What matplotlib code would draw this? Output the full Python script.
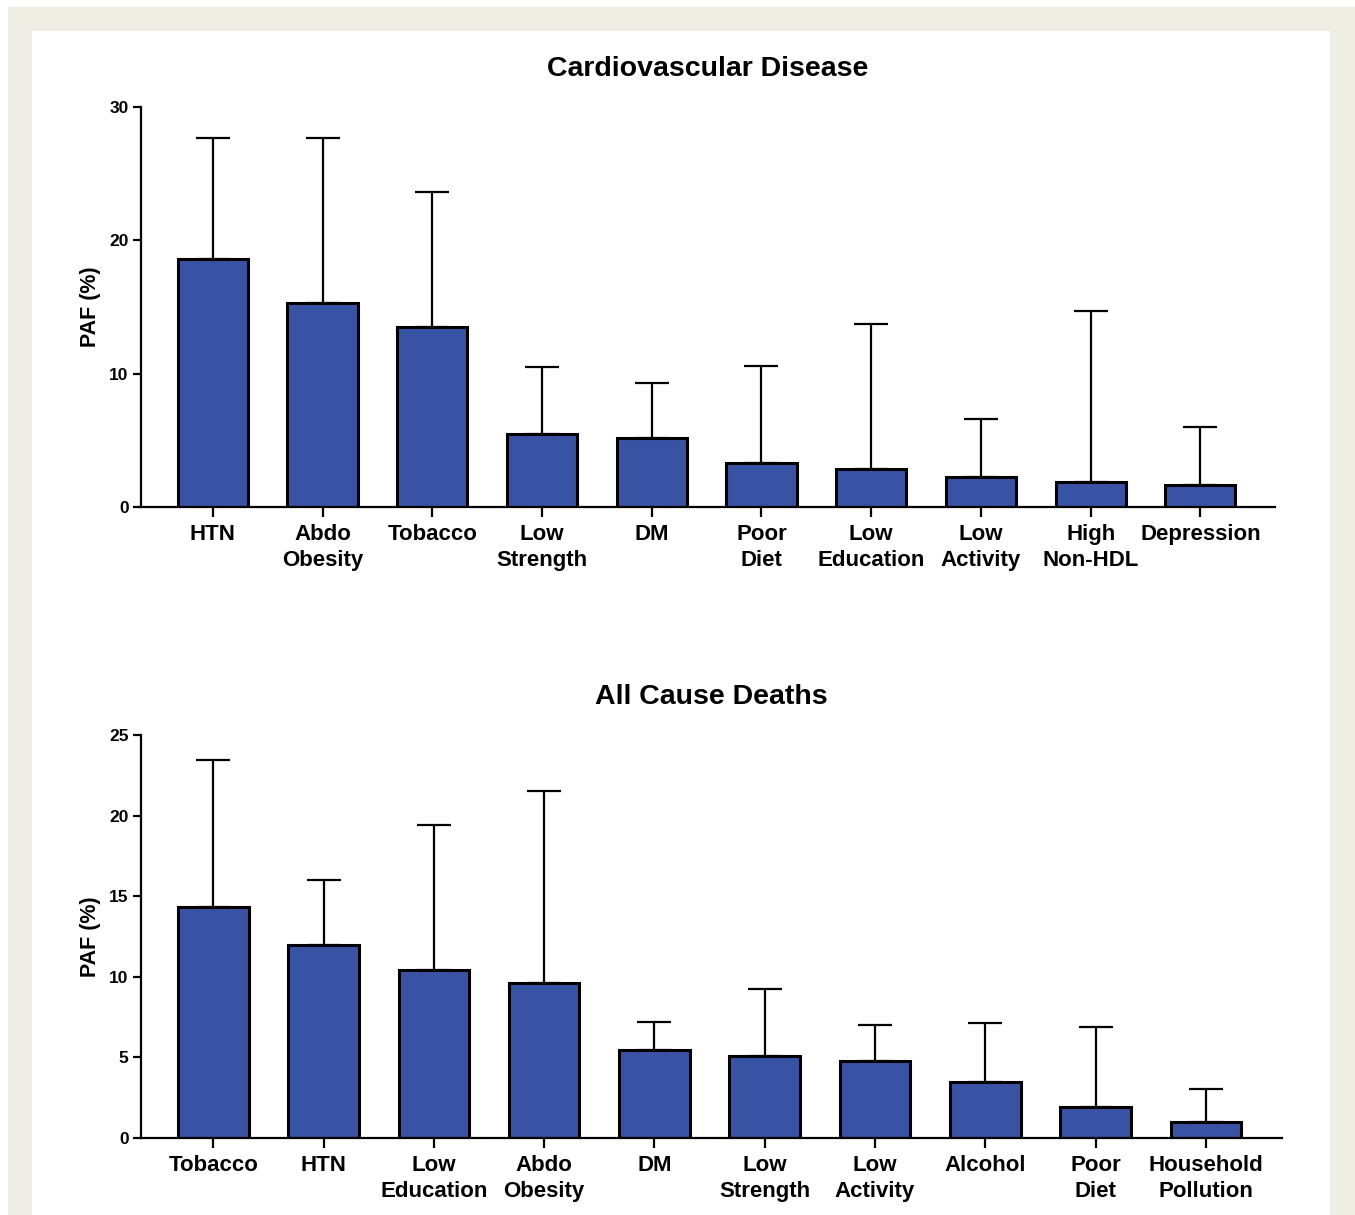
import matplotlib
matplotlib.use("Agg")
import matplotlib.pyplot as plt
from matplotlib.patches import Rectangle

plt.rcParams['font.family'] = ['Liberation Sans', 'DejaVu Sans']
plt.rcParams['font.weight'] = 'bold'

# Cardiovascular disease
cvd_labels = ["HTN", "Abdo\nObesity", "Tobacco", "Low\nStrength", "DM", "Poor\nDiet",
              "Low\nEducation", "Low\nActivity", "High\nNon-HDL", "Depression"]
cvd_paf = [18.6, 15.3, 13.5, 5.5, 5.2, 3.3, 2.85, 2.25, 1.9, 1.65]
cvd_upper = [27.7, 27.7, 23.6, 10.5, 9.3, 10.6, 13.7, 6.6, 14.7, 6.0]

# All cause deaths
acd_labels = ["Tobacco", "HTN", "Low\nEducation", "Abdo\nObesity", "DM", "Low\nStrength",
              "Low\nActivity", "Alcohol", "Poor\nDiet", "Household\nPollution"]
acd_paf = [14.35, 11.95, 10.45, 9.6, 5.45, 5.1, 4.8, 3.45, 1.9, 1.0]
acd_upper = [23.45, 16.0, 19.4, 21.5, 7.2, 9.25, 7.0, 7.15, 6.9, 3.05]

bar_color = "#3953a4"

fig = plt.figure(figsize=(13.55, 12.15), dpi=100)
fig.patches.append(Rectangle((8/1355, 0), 1 - 8/1355, 1 - 7/1215, transform=fig.transFigure,
                             facecolor="#efeee4", edgecolor="none", zorder=-10))
fig.patches.append(Rectangle((32/1355, 0), (1330-32)/1355, 1 - 31/1215, transform=fig.transFigure,
                             facecolor="white", edgecolor="none", zorder=-9))


def draw(ax, labels, vals, upper, title, ymax, step, xmax):
    x = list(range(len(labels)))
    err = [u - v for u, v in zip(upper, vals)]
    ax.errorbar(x, vals, yerr=[[0]*len(vals), err], fmt="none", ecolor="black",
                elinewidth=1.6, capsize=12.5, capthick=1.6, zorder=1)
    ax.bar(x, vals, width=0.64, color=bar_color, edgecolor="black", linewidth=2.2, zorder=2)
    ax.set_xlim(-0.655, xmax)
    ax.set_ylim(0, ymax)
    ax.set_yticks(range(0, ymax + 1, step))
    ax.set_xticks(x)
    ax.set_xticklabels(labels, fontsize=16, fontweight="bold", linespacing=1.32)
    for s in ["top", "right"]:
        ax.spines[s].set_visible(False)
    for s in ["left", "bottom"]:
        ax.spines[s].set_linewidth(1.6)
    ax.tick_params(axis="y", length=6, width=1.6, labelsize=12.5, pad=3)
    ax.tick_params(axis="x", length=7, width=1.6, pad=5)
    for t in ax.get_yticklabels():
        t.set_fontweight("bold")
    ax.set_ylabel("PAF (%)", fontsize=15.5, fontweight="bold", labelpad=6)
    ax.set_title(title, fontsize=20.5, fontweight="bold", pad=22)


ax1 = fig.add_axes([141/1355, 1 - 507/1215, (1275-141)/1355, 400/1215])
draw(ax1, cvd_labels, cvd_paf, cvd_upper, "Cardiovascular Disease", 30, 10, 9.68)

ax2 = fig.add_axes([141/1355, 1 - 1138/1215, (1282-141)/1355, 403/1215])
draw(ax2, acd_labels, acd_paf, acd_upper, "All Cause Deaths", 25, 5, 9.69)

fig.savefig("out.png", dpi=100)
